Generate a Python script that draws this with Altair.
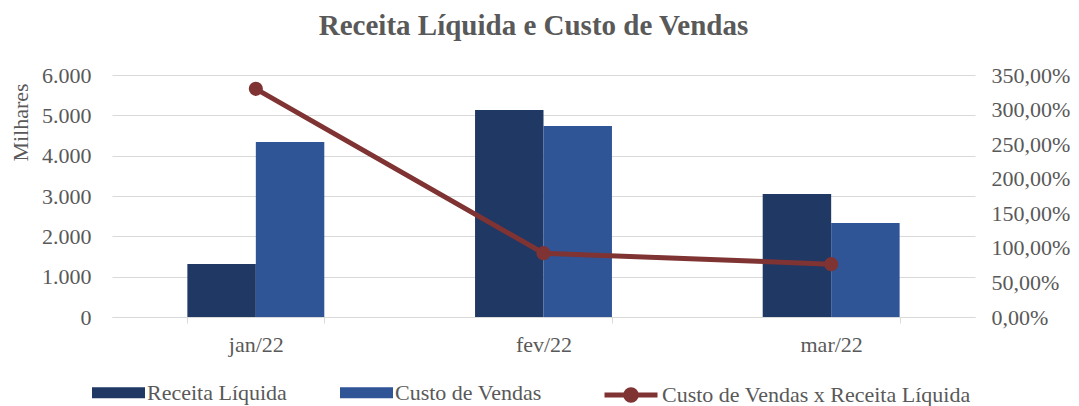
import altair as alt
import pandas as pd

meses = ["jan/22", "fev/22", "mar/22"]
receita = [1314, 5133, 3050]
custo = [4339, 4736, 2331]
razao = [3.30, 0.923, 0.764]

series_barras = ["Receita Líquida", "Custo de Vendas"]
serie_linha = "Custo de Vendas x Receita Líquida"
cores_barras = ["#203864", "#2F5597"]
cor_linha = "#7F3333"

FONT = "Liberation Serif"
GRAY = "#595959"
GRID = "#D9D9D9"
FS = 22

barras = pd.DataFrame({
    "mes": meses * 2,
    "serie": [series_barras[0]] * 3 + [series_barras[1]] * 3,
    "valor": receita + custo,
})
linha = pd.DataFrame({"mes": meses, "razao": razao, "serie": [serie_linha] * 3})

x_enc = alt.X(
    "mes:N", sort=meses, title=None,
    scale=alt.Scale(paddingInner=0.524, paddingOuter=0.262),
    axis=alt.Axis(labelAngle=0, labelFontSize=FS, labelFont=FONT, labelColor=GRAY,
                  labelPadding=11, domainColor=GRID, tickColor=GRID, tickSize=6,
                  tickBand="extent", grid=False),
)

bars = alt.Chart(barras).mark_bar().encode(
    x=x_enc,
    xOffset=alt.XOffset("serie:N", sort=series_barras, scale=alt.Scale(paddingInner=0, paddingOuter=0)),
    y=alt.Y("valor:Q", title="Milhares",
            scale=alt.Scale(domain=[0, 6000], nice=False),
            axis=alt.Axis(values=[0, 1000, 2000, 3000, 4000, 5000, 6000],
                          labelExpr="replace(format(datum.value, ',.0f'), ',', '.')",
                          labelFontSize=FS, labelFont=FONT, labelColor=GRAY, labelPadding=21,
                          labelOverlap=False,
                          domain=False, ticks=False, grid=True, gridColor=GRID,
                          titleFont=FONT, titleFontSize=FS, titleFontWeight="normal", titleColor=GRAY,
                          titleAngle=-90, titleX=-92, titleY=47, titleAlign="center",
                          titleBaseline="middle")),
    fill=alt.Fill("serie:N", sort=series_barras,
                  scale=alt.Scale(domain=series_barras, range=cores_barras),
                  legend=alt.Legend(orient="none", legendX=-20, legendY=291, direction="horizontal",
                                    columns=2, title=None, labelFont=FONT, labelFontSize=FS,
                                    labelColor=GRAY, symbolType="M-1,-0.21L1,-0.21L1,0.21L-1,0.21Z",
                                    symbolSize=2809, symbolStrokeWidth=0, labelOffset=2,
                                    columnPadding=53, labelLimit=400)),
)

eixo_direito = alt.Axis(orient="right", values=[0, 0.5, 1, 1.5, 2, 2.5, 3, 3.5],
                        labelExpr="replace(format(datum.value, '.2%'), '.', ',')",
                        labelFontSize=FS, labelFont=FONT, labelColor=GRAY, labelPadding=16,
                        labelOverlap=False, labelFlush=False,
                        domain=False, ticks=False, grid=False)
escala_direita = alt.Scale(domain=[0, 3.5], nice=False)

line = alt.Chart(linha).mark_line(strokeWidth=5).encode(
    x=alt.X("mes:N", sort=meses),
    y=alt.Y("razao:Q", title=None, scale=escala_direita, axis=eixo_direito),
    stroke=alt.Stroke("serie:N", scale=alt.Scale(domain=[serie_linha], range=[cor_linha]),
                      legend=alt.Legend(orient="none", legendX=490, legendY=291, title=None,
                                        labelFont=FONT, labelFontSize=FS, labelColor=GRAY,
                                        labelLimit=500,
                                        symbolType="M-1,0L1,0M0.2,0A0.2,0.2 0 1,1 -0.2,0A0.2,0.2 0 1,1 0.2,0Z",
                                        symbolSize=2809, symbolStrokeWidth=5,
                                        symbolFillColor=cor_linha, labelOffset=2)),
)
points = alt.Chart(linha).mark_circle(size=200, opacity=1).encode(
    x=alt.X("mes:N", sort=meses),
    y=alt.Y("razao:Q", title=None, scale=escala_direita, axis=eixo_direito),
    color=alt.value(cor_linha),
)

chart = alt.layer(bars, alt.layer(line, points)).resolve_scale(y="independent").properties(
    width=863, height=242,
    autosize=alt.AutoSizeParams(type="none"),
    padding={"left": 104, "top": 67, "right": 96, "bottom": 90},
    title=alt.TitleParams("Receita Líquida e Custo de Vendas", font=FONT, fontSize=29,
                          fontWeight="bold", color=GRAY, anchor="middle", dx=-10,
                          offset=23),
).configure(background="white", view=alt.ViewConfig(stroke=None))

chart.save("out.html", embed_options={"renderer": "svg", "actions": False})
